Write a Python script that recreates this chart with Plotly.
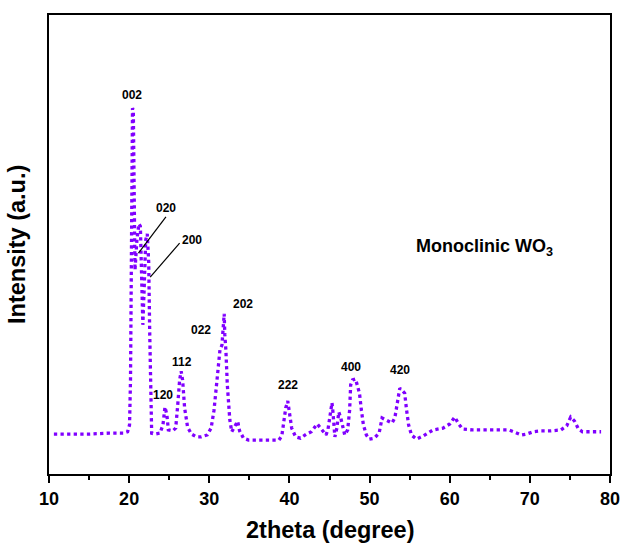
import plotly.graph_objects as go

# XRD pattern of monoclinic WO3
two_theta = [10.61, 12.57, 15.03, 17.48, 19.32, 19.81, 20.05, 20.17, 20.30, 20.36,
             20.42, 20.52, 20.60, 20.73, 20.97, 21.22, 21.40, 21.55, 21.71, 21.89,
             22.07, 22.26, 22.44, 22.56, 22.69, 22.81, 23.24, 23.85, 24.22, 24.47,
             24.71, 24.89, 25.45, 25.81, 26.06, 26.30, 26.49, 26.67, 26.92, 27.29,
             27.78, 28.39, 29.00, 29.74, 30.23, 30.59, 30.84, 31.08, 31.33, 31.58,
             31.76, 31.86, 31.94, 32.07, 32.25, 32.56, 32.80, 33.17, 33.54, 33.78,
             34.27, 34.89, 35.87, 37.09, 38.69, 39.05, 39.30, 39.54, 39.79, 40.03,
             40.28, 40.77, 41.38, 42.12, 42.73, 43.47, 44.08, 44.57, 44.82, 45.06,
             45.31, 45.43, 45.55, 45.67, 45.92, 46.16, 46.41, 46.65, 46.90, 47.27,
             47.51, 47.64, 47.88, 48.25, 48.49, 48.74, 48.98, 49.23, 49.60, 49.97,
             50.58, 51.19, 51.56, 52.05, 52.79, 53.15, 53.52, 53.77, 54.01, 54.38,
             54.62, 54.87, 55.23, 55.85, 56.71, 57.93, 59.16, 60.01, 60.63, 61.12,
             61.61, 62.84, 65.29, 67.37, 67.98, 68.96, 69.58, 70.43, 71.41, 72.64,
             73.87, 74.60, 75.09, 75.58, 76.07, 76.56, 77.54, 78.89]
intensity = [8.7, 8.7, 8.7, 8.9, 8.9, 9.2, 10.7, 20.5, 48.8, 72.8,
             79.7, 79.3, 66.2, 44.4, 51.0, 54.5, 54.0, 44.4, 32.5, 41.2,
             51.0, 52.3, 46.2, 31.4, 16.1, 8.9, 8.7, 8.9, 10.7, 14.6,
             12.9, 9.6, 9.4, 10.0, 15.0, 20.5, 22.4, 20.5, 14.4, 10.2,
             8.7, 8.1, 8.1, 8.5, 10.0, 13.9, 18.3, 23.1, 27.0, 28.1,
             31.4, 34.9, 30.3, 27.0, 19.4, 11.8, 9.2, 10.2, 11.5, 9.4,
             7.8, 7.4, 7.4, 7.4, 7.4, 8.3, 11.3, 14.4, 15.9, 13.5,
             10.0, 8.1, 7.8, 8.7, 9.2, 10.9, 9.6, 8.5, 9.8, 12.2,
             15.5, 13.5, 10.7, 8.1, 10.0, 13.5, 12.2, 10.0, 8.5, 9.6,
             13.9, 19.4, 20.5, 20.7, 19.4, 17.6, 13.9, 10.7, 8.5, 7.6,
             7.8, 8.9, 12.2, 11.8, 11.1, 12.2, 15.7, 18.7, 18.3, 17.6,
             13.9, 10.7, 8.5, 7.6, 8.3, 9.6, 10.0, 10.9, 12.4, 10.9,
             9.8, 9.6, 9.6, 9.6, 9.2, 8.5, 8.7, 9.2, 9.4, 9.4,
             9.6, 10.5, 12.4, 11.5, 9.8, 9.2, 9.2, 9.2]

# Miller index labels and their positions
peak_labels = ["002", "020", "200", "120", "112", "022", "202", "222", "400", "420"]
label_x = [20.30, 24.59, 27.90, 24.22, 26.55, 29.00, 34.15, 39.79, 47.64, 53.77]
label_y = [82.6, 58.0, 51.0, 17.2, 24.4, 31.4, 37.0, 19.4, 23.3, 22.7]

# leader lines for the 020 and 200 labels: (x_from, y_from, x_to, y_to)
leaders = [(24.59, 56.0, 21.16, 48.1), (26.30, 50.3, 22.63, 42.9)]

x_ticks = [10, 20, 30, 40, 50, 60, 70, 80]

FONT = "Liberation Sans, Arial"

fig = go.Figure()
fig.add_trace(go.Scatter(
    x=two_theta, y=intensity, mode="lines",
    line=dict(color="#8000ff", width=3.3, dash="3.3px,3.3px"),
    showlegend=False, hoverinfo="skip"))

for lab, lx, ly in zip(peak_labels, label_x, label_y):
    fig.add_annotation(x=lx, y=ly, text=f"<b>{lab}</b>", showarrow=False,
                       font=dict(family=FONT, size=12, color="black"))

for x0, y0, x1, y1 in leaders:
    fig.add_shape(type="line", x0=x0, y0=y0, x1=x1, y1=y1,
                  line=dict(color="black", width=1.2))

fig.add_annotation(x=55.5, y=49.3, xanchor="left", showarrow=False,
                   text="<b>Monoclinic WO<sub>3</sub></b>",
                   font=dict(family=FONT, size=18, color="black"))

# axis titles
fig.add_annotation(xref="paper", yref="paper", x=0.5, y=-0.122, yanchor="middle",
                   showarrow=False, text="<b>2theta (degree)</b>",
                   font=dict(family=FONT, size=23.5, color="black"))
fig.add_annotation(xref="paper", yref="paper", x=-0.058, y=0.5, xanchor="center",
                   textangle=-90, showarrow=False, text="<b>Intensity (a.u.)</b>",
                   font=dict(family=FONT, size=23.5, color="black"))

fig.update_xaxes(range=[10, 80], tickvals=x_ticks, ticktext=[f"<b>{t}</b>" for t in x_ticks],
                 ticks="outside", ticklen=7, tickwidth=2, tickcolor="black",
                 minor=dict(dtick=5, tick0=0, ticks="outside", ticklen=4, tickwidth=2, tickcolor="black"),
                 showline=True, linewidth=2, linecolor="black", mirror=True,
                 showgrid=False, zeroline=False,
                 tickfont=dict(family=FONT, size=18, color="black"))
fig.update_yaxes(range=[0, 100], showticklabels=False, ticks="",
                 showline=True, linewidth=2, linecolor="black", mirror=True,
                 showgrid=False, zeroline=False)

fig.update_layout(width=632, height=547,
                  margin=dict(l=49, r=12, t=15, b=73),
                  plot_bgcolor="white", paper_bgcolor="white")

fig.write_html("out.html", config={"displayModeBar": False},
               post_script="document.body.style.margin='0';document.body.style.overflow='hidden';")
